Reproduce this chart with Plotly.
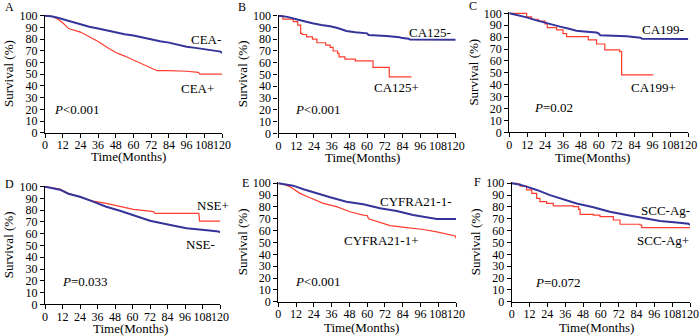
import plotly.graph_objects as go

W, H = 700, 336
FONT = "Liberation Serif, Times New Roman, serif"
BLUE = "#34349a"
RED = "#ff3c2e"

# ---------------- data (months, survival %) ----------------
A_neg_t = [0, 4, 8, 12, 18, 24, 30, 36, 42, 48, 54, 60, 66, 72, 78, 84, 90, 96, 102, 108, 114, 119, 120]
A_neg_s = [100, 99.6, 98.5, 97, 94.5, 92.5, 90.5, 89, 87.3, 85.5, 84.2, 83, 81.2, 79.5, 78.2, 77, 75.2, 73.5, 72.5, 71.5, 70.3, 69.3, 68]
A_pos_t = [0, 5, 8, 12, 16, 20, 24, 30, 36, 42, 48, 54, 60, 66, 72, 76, 84, 96, 104, 105, 120]
A_pos_s = [100, 99.5, 97.5, 94, 89, 87.5, 86, 82, 78, 73, 68.5, 65.5, 62, 59, 55.5, 53, 53, 52.5, 51.5, 50, 50]

B_neg_t = [0, 6, 12, 18, 23, 29, 35, 40, 46, 52, 57, 60, 61, 72, 73, 82, 83, 88, 89, 120]
B_neg_s = [100, 99, 97, 95, 93.5, 92, 91, 89.5, 87, 86, 85.5, 85, 83.5, 83, 82.7, 81.6, 81.3, 80.5, 79.8, 79.5]
B_pos_t = [0, 3, 10, 13, 15, 16, 19, 23, 26, 32, 35, 37, 40, 41, 45, 52, 64, 75, 90]
B_pos_s = [100, 97, 95, 92, 85, 84, 82, 80, 77, 75, 73, 70, 68, 65, 63, 61.5, 56, 48, 48]

C_neg_t = [0, 6, 11.6, 17, 22.8, 28, 34, 40, 45, 52, 58.5, 60, 61, 78.7, 83, 88, 89, 120]
C_neg_s = [100, 98.5, 96.6, 94.5, 92.4, 90.5, 88.8, 87, 85.4, 84.5, 83.8, 83, 81.5, 80.7, 80, 79.5, 78.6, 78.4]
C_pos_t = [0, 11.6, 15, 19.5, 24, 25.5, 31.7, 36, 38.4, 53, 58.5, 64, 74, 75.3, 96.5]
C_pos_s = [100, 97, 95, 93.5, 91, 88, 86, 83, 80.4, 77.6, 74.2, 69.2, 67.8, 48.2, 48.2]

D_pos_t = [0, 5, 10.3, 16, 24, 33, 42, 51.4, 60.6, 70, 74.3, 75.4, 105.5, 106, 120]
D_pos_s = [100, 99, 98, 94.3, 91.5, 87.8, 85.8, 83, 80.7, 79.5, 78.8, 77.3, 77.3, 70.8, 70.8]
D_neg_t = [0, 5, 10.3, 16, 24, 33, 42, 51.4, 60.6, 72, 83.4, 97, 111, 119, 120]
D_neg_s = [100, 99, 97.5, 94, 91.5, 87.3, 83, 79.6, 76, 71, 68, 64.6, 63, 62, 61]

E_neg_t = [0, 5, 10, 17, 26, 35, 46, 57.4, 68.7, 80, 91, 98, 104.7, 107, 120]
E_neg_s = [100, 99.3, 98, 95, 91.5, 88.2, 84.5, 82.3, 78.9, 76.6, 73.2, 71.8, 70.4, 69.9, 69.9]
E_pos_t = [0, 4, 8, 14.6, 21, 30.4, 39.4, 48.4, 57.4, 60, 61, 68.7, 75.5, 86.7, 98, 107, 113.7, 118.3, 119.5, 120]
E_pos_s = [100, 99, 97, 91.5, 88, 83, 80.3, 76, 73.2, 72.8, 70, 67, 64.2, 62.5, 61, 59, 56.9, 55.8, 55.5, 53.5]

F_neg_t = [0, 5, 10, 16.8, 25.8, 34.8, 43.7, 55, 66, 77.4, 88.6, 99.8, 111, 119, 120]
F_neg_s = [100, 99, 97.2, 94.4, 90, 86.8, 83, 79.7, 76, 73.2, 70.4, 68.2, 66.8, 65.8, 64.8]
F_pos_t = [0, 3.4, 5.6, 10, 13.5, 16.8, 19, 23.5, 28, 41.5, 45, 46, 55, 59.4, 68.4, 72.9, 86.4, 87.5, 120]
F_pos_s = [100, 99.4, 97.7, 94.4, 91.5, 87.3, 84.5, 83, 81, 80.3, 78, 73.8, 73.2, 71.8, 69, 65.4, 64.8, 62.5, 62.5]

x_ticks = [0, 12, 24, 36, 48, 60, 72, 84, 96, 108, 120]
y_ticks = [0, 10, 20, 30, 40, 50, 60, 70, 80, 90, 100]
x_title = "Time(Months)"
y_title = "Survival (%)"

panels = [
    dict(letter=("A", 3, 7), xt=(128.5, 156), blue=(A_neg_t, A_neg_s, "linear"), red=(A_pos_t, A_pos_s, "linear"),
         blab=("CEA-", 109, 80), rlab=("CEA+", 103.4, 38), p=("<0.001", 5, 20), box=(45, 222, 15.7, 132.7)),
    dict(letter=("B", 236, 7), xt=(362.5, 157), blue=(B_neg_t, B_neg_s, "linear"), red=(B_pos_t, B_pos_s, "hv"),
         blab=("CA125-", 102.6, 85.5), rlab=("CA125+", 80, 39), p=("<0.001", 9.5, 20), box=(278.5, 455.7, 15.7, 133.3)),
    dict(letter=("C", 467, 6), xt=(592.5, 157), blue=(C_neg_t, C_neg_s, "linear"), red=(C_pos_t, C_pos_s, "hv"),
         blab=("CA199-", 103, 86.6), rlab=("CA199+", 97, 37.8), p=("=0.02", 15, 21), box=(509.3, 688.3, 13.3, 132.3)),
    dict(letter=("D", 3, 184), xt=(130, 328), blue=(D_neg_t, D_neg_s, "linear"), red=(D_pos_t, D_pos_s, "linear"),
         blab=("NSE-", 106.9, 51), rlab=("NSE+", 114.9, 83.8), p=("=0.033", 10, 19), box=(45, 220, 186.7, 304.3)),
    dict(letter=("E", 240, 183), xt=(361, 327.5), blue=(E_neg_t, E_neg_s, "linear"), red=(E_pos_t, E_pos_s, "linear"),
         blab=("CYFRA21-1-", 93, 85), rlab=("CYFRA21-1+", 70, 52), p=("<0.001", 10, 17), box=(278.3, 456, 183.3, 301.7)),
    dict(letter=("F", 472, 182), xt=(596.7, 327.5), blue=(F_neg_t, F_neg_s, "linear"), red=(F_pos_t, F_pos_s, "hv"),
         blab=("SCC-Ag-", 103.7, 76.9), rlab=("SCC-Ag+", 101.8, 51.5), p=("=0.072", 14.5, 16), box=(511.7, 690, 183.3, 301.7)),
]

fig = go.Figure()
annotations = []
YTOP = 101

for i, pn in enumerate(panels):
    k = "" if i == 0 else str(i + 1)
    xa, ya = "x" + k, "y" + k
    x0, x1, y100, y0 = pn["box"]
    unit = (y0 - y100) / 100.0
    ytop_px = y100 - (YTOP - 100) * unit
    xdom = [x0 / W, x1 / W]
    ydom = [1 - y0 / H, 1 - ytop_px / H]

    rt, rs, rshape = pn["red"]
    bt, bs, bshape = pn["blue"]
    fig.add_trace(go.Scatter(x=rt, y=rs, mode="lines", line=dict(color=RED, width=1.2, shape=rshape),
                             xaxis=xa, yaxis=ya, showlegend=False, hoverinfo="skip"))
    fig.add_trace(go.Scatter(x=bt, y=bs, mode="lines", line=dict(color=BLUE, width=2, shape=bshape),
                             xaxis=xa, yaxis=ya, showlegend=False, hoverinfo="skip"))

    axcommon = dict(showgrid=False, zeroline=False, showline=True, linecolor="black", linewidth=1.3,
                    ticks="outside", ticklen=4, tickwidth=1.2, tickcolor="black", automargin=False,
                    tickfont=dict(family=FONT, size=12, color="black"))
    fig.update_layout(**{
        ("xaxis" + k): dict(domain=xdom, range=[0, 120], tickvals=x_ticks, tickangle=0, anchor=ya,
                            ticklabelstandoff=-3, **axcommon),
        ("yaxis" + k): dict(domain=ydom, range=[0, YTOP], tickvals=y_ticks, anchor=xa,
                            title=dict(text=y_title, font=dict(family=FONT, size=13, color="black"), standoff=2),
                            **axcommon),
    })

    lab_font = dict(family=FONT, size=13, color="black")
    xtx, xty = pn["xt"]
    annotations.append(dict(x=xtx / W, y=1 - xty / H, xref="paper", yref="paper", text=x_title,
                            showarrow=False, xanchor="center", yanchor="middle", font=lab_font))
    for (txt, lx, ly) in (pn["blab"], pn["rlab"]):
        annotations.append(dict(x=lx, y=ly, xref=xa, yref=ya, text=txt, showarrow=False,
                                xanchor="center", yanchor="middle", font=lab_font))
    ptxt, px, py = pn["p"]
    annotations.append(dict(x=px, y=py, xref=xa, yref=ya, text="<i>P</i>" + ptxt, showarrow=False,
                            xanchor="left", yanchor="middle", font=lab_font))
    letter, lxp, lyp = pn["letter"]
    annotations.append(dict(x=lxp / W, y=1 - lyp / H, xref="paper", yref="paper",
                            text=letter, showarrow=False, xanchor="left", yanchor="middle",
                            font=dict(family=FONT, size=12, color="black")))

fig.update_layout(width=W, height=H, margin=dict(l=0, r=0, t=0, b=0),
                  paper_bgcolor="white", plot_bgcolor="white", annotations=annotations,
                  font=dict(family=FONT))
fig.write_html("out.html", config={"displayModeBar": False},
               post_script="document.body.style.margin='0px';document.body.style.padding='0px';")
